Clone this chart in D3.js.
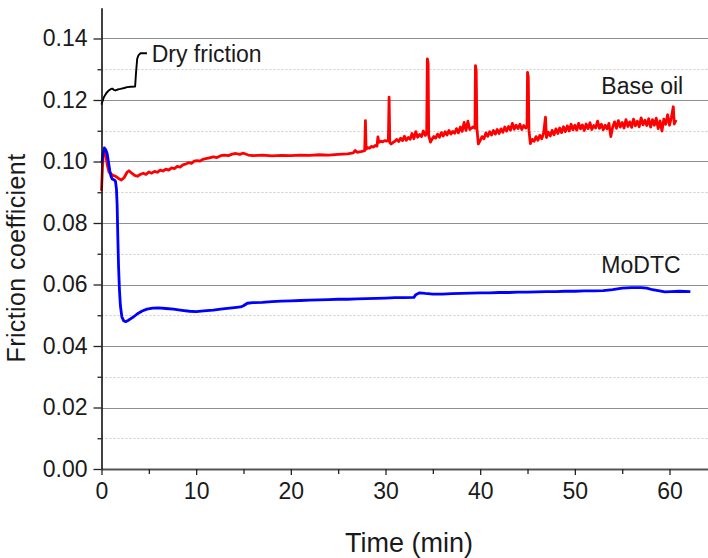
<!DOCTYPE html>
<html><head><meta charset="utf-8">
<script src="https://cdn.jsdelivr.net/npm/d3@7"></script>
<style>
html,body{margin:0;padding:0;background:#fff;}
svg{display:block;font-family:"Liberation Sans",Arial,sans-serif;}
</style></head>
<body>
<svg id="chart" width="708" height="558"></svg>
<script>
// ---------- data ----------
const xMajorTicks = [0, 10, 20, 30, 40, 50, 60];
const xMinorTicks = [5, 15, 25, 35, 45, 55];
const yMajorTicks = [0.00, 0.02, 0.04, 0.06, 0.08, 0.10, 0.12, 0.14];
const yMinorTicks = [0.01, 0.03, 0.05, 0.07, 0.09, 0.11, 0.13];
const seriesNames = ["Base oil", "MoDTC", "Dry friction"];

// Dry friction (time min, friction coefficient)
const dryFriction = [
  [0,0.1185],[0.1,0.1195],[0.25,0.1209],[0.5,0.1222],[0.77,0.1231],[1.0,0.1236],[1.13,0.1237],
  [1.3,0.1233],[1.48,0.1231],[1.7,0.1234],[2.0,0.1236],[2.4,0.1239],[2.7,0.1242],[3.1,0.1243],
  [3.55,0.1244],[3.65,0.1290],[3.77,0.1334],[3.9,0.1345],[4.1,0.1352],[4.8,0.1352]
];

// Base oil
const baseOil = [
  [0,0.0905],[0.1,0.0980],[0.2,0.1025],[0.3,0.1035],[0.45,0.1025],[0.6,0.0990],[0.8,0.0965],
  [1.0,0.0960],[1.2,0.0955],[1.5,0.0952],[1.8,0.0945],[2.1,0.0940],[2.4,0.0948],[2.7,0.0965],
  [2.9,0.0970],[3.2,0.0962],[3.5,0.0955],[3.8,0.0952],[4.1,0.0958],[4.4,0.0962],[4.7,0.0958],
  [5.0,0.0966],[5.3,0.0962],[5.6,0.0968],[5.9,0.0965],[6.2,0.0972],[6.5,0.0969],[6.8,0.0975],
  [7.1,0.0972],[7.4,0.0979],[7.7,0.0977],[8.0,0.0984],[8.3,0.0982],[8.6,0.0989],[8.9,0.0992],
  [9.2,0.0996],[9.5,0.0994],[9.8,0.1001],[10.1,0.1003],[10.4,0.1001],[10.7,0.1007],[11.0,0.1009],
  [11.4,0.1012],[11.8,0.1015],[12.2,0.1013],[12.6,0.1019],[13.0,0.1021],[13.4,0.1019],[13.8,0.1024],
  [14.2,0.1026],[14.6,0.1023],[15.0,0.1027],[15.5,0.1021],[16,0.1019],[17,0.1021],[18,0.1018],
  [19,0.1020],[20,0.1019],[21,0.1021],[22,0.1020],[23,0.1022],[24,0.1021],[25,0.1023],[26,0.1025],
  [26.6,0.1028],[26.8,0.1036],[27.0,0.1030],[27.4,0.1032],[27.8,0.1035],[27.88,0.1133],[27.95,0.1040],
  [28.1,0.1045],[28.3,0.1043],[28.5,0.1049],[28.7,0.1047],[28.9,0.1052],[29.1,0.1050],[29.2,0.1080],
  [29.3,0.1062],[29.5,0.1066],[29.7,0.1064],[29.9,0.1068],[30.1,0.1066],[30.3,0.1070],[30.38,0.1209],
  [30.45,0.1062],[30.6,0.1057],[30.8,0.1062],[31.0,0.1066],[31.2,0.1072],[31.4,0.1065],[31.6,0.1076],
  [31.8,0.1068],[32.0,0.1082],[32.2,0.1069],[32.4,0.1078],[32.6,0.1072],[32.8,0.1091],[33.0,0.1074],
  [33.2,0.1097],[33.4,0.1079],[33.6,0.1088],[33.8,0.1081],[34.0,0.1099],[34.2,0.1085],[34.35,0.1092],
  [34.42,0.1334],[34.5,0.1320],[34.56,0.1085],[34.75,0.1063],[34.9,0.1072],[35.1,0.1081],[35.3,0.1076],
  [35.5,0.1089],[35.7,0.1079],[35.9,0.1094],[36.1,0.1083],[36.3,0.1097],[36.5,0.1086],[36.7,0.1101],
  [36.9,0.1089],[37.1,0.1098],[37.3,0.1092],[37.5,0.1107],[37.7,0.1093],[37.9,0.1112],[38.1,0.1098],
  [38.3,0.1127],[38.5,0.1101],[38.7,0.1131],[38.9,0.1104],[39.1,0.1109],[39.3,0.1113],[39.45,0.1108],
  [39.5,0.1312],[39.58,0.1295],[39.65,0.1110],[39.8,0.1057],[40.0,0.1068],[40.2,0.1081],[40.4,0.1074],
  [40.6,0.1093],[40.8,0.1082],[41.0,0.1097],[41.2,0.1086],[41.4,0.1101],[41.6,0.1089],[41.8,0.1104],
  [42.0,0.1091],[42.2,0.1106],[42.4,0.1095],[42.6,0.1112],[42.8,0.1099],[43.0,0.1114],[43.2,0.1102],
  [43.4,0.1124],[43.6,0.1105],[43.8,0.1118],[44.0,0.1107],[44.2,0.1121],[44.4,0.1104],[44.6,0.1117],
  [44.8,0.1109],[44.95,0.1112],[45.0,0.1290],[45.08,0.1275],[45.15,0.1102],[45.3,0.1058],[45.5,0.1072],
  [45.7,0.1066],[45.9,0.1081],[46.1,0.1069],[46.3,0.1085],[46.5,0.1074],[46.7,0.1092],[46.9,0.1144],
  [47.0,0.1078],[47.2,0.1095],[47.4,0.1083],[47.6,0.1101],[47.8,0.1087],[48.0,0.1106],[48.2,0.1091],
  [48.4,0.1109],[48.6,0.1094],[48.8,0.1113],[49.0,0.1097],[49.2,0.1116],[49.4,0.1099],[49.6,0.1121],
  [49.8,0.1103],[50.0,0.1118],[50.2,0.1102],[50.4,0.1124],[50.6,0.1106],[50.8,0.1119],[51.0,0.1101],
  [51.2,0.1122],[51.4,0.1107],[51.6,0.1126],[51.8,0.1104],[52.0,0.1117],[52.2,0.1109],[52.4,0.1131],
  [52.6,0.1108],[52.8,0.1121],[53.0,0.1103],[53.2,0.1118],[53.4,0.1106],[53.6,0.1124],[53.8,0.1081],
  [54.0,0.1112],[54.2,0.1129],[54.4,0.1108],[54.6,0.1133],[54.8,0.1112],[55.0,0.1127],[55.2,0.1109],
  [55.4,0.1136],[55.6,0.1114],[55.8,0.1129],[56.0,0.1111],[56.2,0.1138],[56.4,0.1116],[56.6,0.1131],
  [56.8,0.1113],[57.0,0.1142],[57.2,0.1119],[57.4,0.1134],[57.6,0.1117],[57.8,0.1139],[58.0,0.1112],
  [58.2,0.1136],[58.4,0.1118],[58.6,0.1141],[58.8,0.1107],[59.0,0.1132],[59.2,0.1099],[59.4,0.1138],
  [59.6,0.1121],[59.8,0.1152],[60.0,0.1118],[60.2,0.1144],[60.4,0.1178],[60.5,0.1122],[60.7,0.1135]
];

// MoDTC
const moDTC = [
  [0.05,0.0995],[0.15,0.1025],[0.3,0.1044],[0.45,0.1038],[0.6,0.1025],[0.75,0.0995],[0.88,0.0970],
  [1.0,0.0952],[1.13,0.0943],[1.35,0.0940],[1.48,0.0935],[1.58,0.0910],[1.65,0.0860],[1.72,0.0760],
  [1.8,0.0660],[1.9,0.0580],[2.0,0.0530],[2.15,0.0495],[2.35,0.0482],[2.55,0.0479],[2.8,0.0483],
  [3.1,0.0489],[3.4,0.0495],[3.8,0.0505],[4.3,0.0514],[4.8,0.0520],[5.4,0.0523],[6.0,0.0524],
  [6.8,0.0522],[7.6,0.0520],[8.5,0.0516],[9.3,0.0513],[10.0,0.0512],[10.8,0.0514],[11.8,0.0517],
  [12.8,0.0521],[13.8,0.0524],[14.7,0.0527],[15.0,0.0531],[15.4,0.0539],[16,0.0541],[17,0.0542],
  [18,0.0544],[19,0.0546],[20,0.0547],[21,0.0548],[22,0.0549],[23,0.0550],[24,0.0551],[25,0.0552],
  [26,0.0552],[27,0.0553],[28,0.0554],[29,0.0555],[30,0.0556],[31,0.0557],[32,0.0557],[33,0.0558],
  [33.2,0.0567],[33.6,0.0573],[34.2,0.0571],[35,0.0569],[36,0.0569],[37,0.0570],[38,0.0571],
  [39,0.0572],[40,0.0573],[41,0.0573],[42,0.0574],[43,0.0574],[44,0.0575],[45,0.0575],[46,0.0576],
  [47,0.0577],[48,0.0577],[49,0.0578],[50,0.0578],[51,0.0579],[52,0.0579],[53,0.0580],[54,0.0583],
  [55,0.0588],[56,0.0590],[57,0.0590],[57.6,0.0588],[58.2,0.0583],[58.8,0.0580],[59.5,0.0576],
  [60.2,0.0577],[61,0.0578],[62.2,0.0577]
];

// ---------- layout ----------
const svg = d3.select("#chart");
const x = d3.scaleLinear().domain([0, 64.5]).range([101.5, 101.5 + 64.5 * 9.467]);
const y = d3.scaleLinear().domain([0, 0.15]).range([469, 469 - 0.15 * 3075]);
const fontFam = '"Liberation Sans", Arial, sans-serif';
const xr = 720;

// grid
const grid = svg.append("g");
grid.selectAll("line.minor").data(yMinorTicks).join("line")
  .attr("x1", x(0)).attr("x2", xr)
  .attr("y1", d => Math.round(y(d)) + 0.5).attr("y2", d => Math.round(y(d)) + 0.5)
  .attr("stroke", "#cccccc").attr("stroke-width", 1).attr("stroke-dasharray", "2,2");
grid.selectAll("line.major").data(yMajorTicks.filter(d => d > 0)).join("line")
  .attr("x1", x(0)).attr("x2", xr)
  .attr("y1", d => Math.round(y(d)) + 0.5).attr("y2", d => Math.round(y(d)) + 0.5)
  .attr("stroke", "#8f8f8f").attr("stroke-width", 1.2);

// lines
const line = d3.line().x(d => x(d[0])).y(d => y(d[1]));
svg.append("path").datum(baseOil).attr("d", line)
  .attr("fill", "none").attr("stroke", "#ff0000").attr("stroke-width", 2.8).attr("stroke-linejoin", "round");
svg.append("path").datum(moDTC).attr("d", line)
  .attr("fill", "none").attr("stroke", "#0000ff").attr("stroke-width", 2.8).attr("stroke-linejoin", "round");
svg.append("path").datum(dryFriction).attr("d", line)
  .attr("fill", "none").attr("stroke", "#000000").attr("stroke-width", 1.9).attr("stroke-linejoin", "round");

// axes
const xAxis = svg.append("g").attr("transform", `translate(0,${y(0)})`)
  .call(d3.axisBottom(x).tickValues(xMajorTicks).tickSize(6).tickSizeOuter(0).tickFormat(d3.format("d")));
xAxis.select(".domain").attr("stroke", "#555").attr("stroke-width", 2.2);
xAxis.selectAll(".tick line").attr("stroke", "#222").attr("stroke-width", 1.3);
xAxis.selectAll(".tick text").attr("font-size", 23).attr("font-family", fontFam).attr("fill", "#1a1a1a").attr("y", 14);
svg.append("g").attr("transform", `translate(0,${y(0)})`)
  .call(d3.axisBottom(x).tickValues(xMinorTicks).tickSize(5).tickFormat(""))
  .call(g => g.select(".domain").remove())
  .selectAll(".tick line").attr("stroke", "#222").attr("stroke-width", 1.3);

const yAxis = svg.append("g").attr("transform", `translate(${x(0)},0)`)
  .call(d3.axisLeft(y).tickValues(yMajorTicks).tickSize(8).tickSizeOuter(0).tickPadding(6).tickFormat(d3.format(".2f")));
yAxis.select(".domain").attr("stroke", "#111").attr("stroke-width", 1.6);
yAxis.selectAll(".tick line").attr("stroke", "#222").attr("stroke-width", 1.3);
yAxis.selectAll(".tick text").attr("font-size", 23).attr("font-family", fontFam).attr("fill", "#1a1a1a");
svg.append("g").attr("transform", `translate(${x(0)},0)`)
  .call(d3.axisLeft(y).tickValues(yMinorTicks).tickSize(4).tickFormat(""))
  .call(g => g.select(".domain").remove())
  .selectAll(".tick line").attr("stroke", "#222").attr("stroke-width", 1.3);

// titles
svg.append("text").attr("x", 409).attr("y", 552).attr("text-anchor", "middle")
  .attr("font-size", 27).attr("font-family", fontFam).attr("fill", "#1a1a1a").text("Time (min)");
svg.append("text").attr("transform", "translate(25,258) rotate(-90)").attr("text-anchor", "middle")
  .attr("font-size", 25).attr("font-family", fontFam).attr("fill", "#1a1a1a")
  .attr("letter-spacing", 0.4).text("Friction coefficient");

// series labels
const labels = [
  {name: seriesNames[2], t: 5.3, v: 0.1325},
  {name: seriesNames[0], t: 52.8, v: 0.1221},
  {name: seriesNames[1], t: 52.8, v: 0.0637}
];
svg.selectAll("text.lab").data(labels).join("text")
  .attr("x", d => x(d.t)).attr("y", d => y(d.v))
  .attr("font-size", 23).attr("font-family", fontFam).attr("fill", "#1a1a1a")
  .text(d => d.name);
</script>
</body></html>
